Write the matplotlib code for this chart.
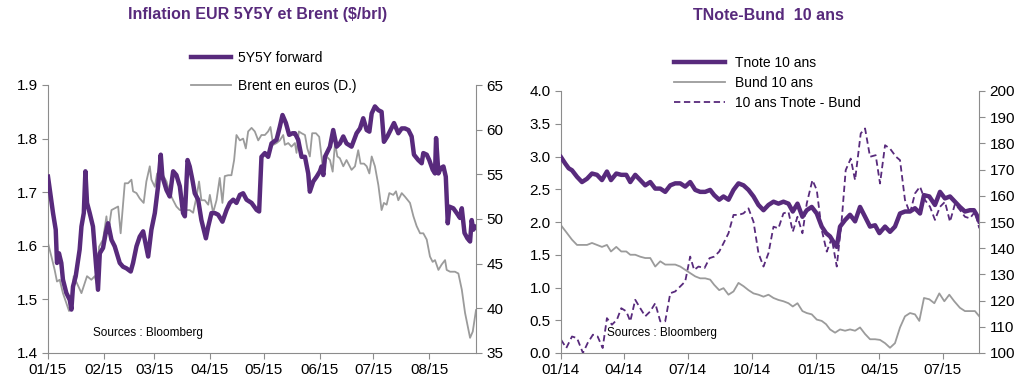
import pandas as pd
import matplotlib.pyplot as plt
import matplotlib.dates as mdates

plt.rcParams['font.family'] = ['Liberation Sans', 'DejaVu Sans']

# ---- left chart : 5Y5Y forward vs Brent (days since 2015-01-01)
fwd_days = [0, 2.8, 4.3, 5.0, 6.1, 7.4, 8.3, 10.2, 12.1, 13.0,
            13.9, 15.4, 17.6, 18.6, 19.9, 20.8, 21.7, 23.2, 25.0, 26.5,
            27.8, 28.8, 30.6, 32.1, 33.4, 35.3, 37.1, 39.9, 41.7, 43.6,
            46.0, 47.3, 49.2, 51.0, 52.9, 55.7, 57.5, 59.4, 61.2, 62.7,
            63.6, 65.9, 67.7, 69.6, 71.4, 73.3, 75.1, 76.1, 77.6, 78.8,
            80.3, 81.6, 83.5, 85.3, 87.8, 89.1, 90.9, 92.8, 94.6, 97.0,
            99.3, 101.1, 103.0, 104.8, 106.7, 108.5, 110.4, 113.2, 116.0, 117.4,
            118.7, 120.6, 122.4, 124.3, 127.1, 128.9, 130.4, 132.3, 134.1, 136.0,
            137.3, 139.1, 141.0, 142.9, 144.7, 145.6, 147.5, 149.4, 151.2, 152.1,
            153.1, 154.0, 156.8, 158.6, 160.5, 162.3, 164.2, 166.0, 168.8, 171.6,
            173.5, 175.3, 177.2, 178.7, 180.0, 181.8, 183.7, 185.5, 186.8, 188.7,
            190.5, 192.4, 194.8, 196.7, 198.5, 200.4, 202.2, 203.5, 205.9, 207.8,
            208.7, 210.6, 212.0, 213.9, 215.2, 215.8, 217.1, 218.4, 219.9, 221.2,
            222.3, 223.2, 225.4, 227.3, 229.1, 230.1, 231.6, 233.2, 234.7, 235.6,
            236.5, 237.5, 238.4]
fwd = [1.729, 1.661, 1.630, 1.568, 1.586, 1.568, 1.537, 1.512, 1.499, 1.481,
       1.524, 1.543, 1.593, 1.636, 1.661, 1.739, 1.680, 1.661, 1.636, 1.574,
       1.518, 1.586, 1.596, 1.624, 1.642, 1.611, 1.599, 1.568, 1.561, 1.558,
       1.552, 1.568, 1.599, 1.617, 1.627, 1.580, 1.630, 1.661, 1.711, 1.770,
       1.729, 1.704, 1.692, 1.739, 1.732, 1.711, 1.661, 1.655, 1.760, 1.748,
       1.723, 1.698, 1.686, 1.648, 1.614, 1.636, 1.661, 1.661, 1.658, 1.645,
       1.667, 1.680, 1.686, 1.680, 1.695, 1.698, 1.686, 1.680, 1.667, 1.664,
       1.766, 1.773, 1.766, 1.791, 1.798, 1.822, 1.844, 1.829, 1.807, 1.810,
       1.810, 1.798, 1.766, 1.766, 1.735, 1.701, 1.720, 1.729, 1.739, 1.748,
       1.732, 1.766, 1.785, 1.816, 1.785, 1.791, 1.804, 1.791, 1.785, 1.810,
       1.819, 1.838, 1.816, 1.813, 1.847, 1.860, 1.853, 1.850, 1.794, 1.804,
       1.816, 1.829, 1.810, 1.819, 1.819, 1.816, 1.804, 1.770, 1.760, 1.754,
       1.773, 1.770, 1.760, 1.742, 1.735, 1.801, 1.735, 1.745, 1.748, 1.729,
       1.642, 1.673, 1.670, 1.661, 1.652, 1.670, 1.624, 1.614, 1.608, 1.648,
       1.630, 1.636, 1.636]

brent_days = [0, 1.9, 3.7, 5.0, 6.5, 8.3, 10.2, 11.7, 13.0, 14.3,
              16.1, 18.6, 20.4, 21.7, 24.1, 26.0, 27.3, 28.4, 30.6, 32.5,
              33.4, 35.3, 37.1, 39.0, 40.4, 42.7, 44.5, 46.4, 47.3, 49.2,
              51.0, 53.2, 54.7, 56.6, 57.5, 59.4, 60.7, 62.2, 64.0, 65.9,
              67.7, 69.6, 71.4, 73.3, 75.1, 77.0, 78.8, 80.7, 82.6, 84.0,
              85.3, 87.2, 89.1, 90.0, 91.8, 93.7, 95.5, 97.0, 98.3, 100.2,
              102.0, 103.5, 104.8, 106.7, 108.5, 110.0, 111.3, 113.2, 115.0, 116.9,
              118.7, 120.6, 122.4, 123.7, 125.2, 127.1, 128.9, 130.8, 131.7, 133.6,
              135.4, 137.3, 138.2, 139.5, 141.0, 142.9, 144.2, 145.6, 146.9, 149.0,
              150.8, 152.1, 153.1, 154.9, 156.8, 158.3, 159.6, 160.9, 162.3, 164.2,
              166.0, 167.0, 168.8, 170.7, 172.5, 173.8, 175.7, 177.2, 178.7, 180.0,
              181.8, 183.7, 185.5, 186.8, 188.3, 189.8, 192.0, 193.5, 194.8, 196.7,
              198.5, 201.3, 203.2, 205.0, 206.9, 208.7, 210.6, 212.4, 213.9, 215.2,
              217.1, 218.9, 220.8, 221.7, 223.6, 226.3, 228.2, 230.1, 231.9, 233.8,
              234.7, 236.2, 238.0]
brent = [47.3, 45.8, 44.3, 43.0, 43.2, 41.7, 40.6, 39.7, 41.0, 43.6,
         42.8, 41.7, 42.8, 43.6, 43.2, 43.6, 42.6, 46.9, 47.7, 50.3,
         48.4, 51.0, 51.2, 51.4, 48.4, 54.0, 54.0, 54.4, 53.1, 52.9,
         52.3, 51.8, 54.2, 55.9, 54.4, 53.6, 55.1, 54.8, 54.9, 54.2,
         52.9, 52.1, 51.4, 51.0, 51.0, 51.0, 51.0, 50.7, 52.5, 54.2,
         52.1, 52.1, 51.6, 52.7, 50.7, 52.1, 54.6, 51.8, 54.8, 54.9,
         54.9, 56.6, 59.4, 58.8, 59.0, 57.9, 59.8, 60.2, 59.8, 58.8,
         59.4, 59.4, 59.8, 60.3, 58.3, 58.5, 58.8, 59.4, 58.3, 58.5,
         58.1, 58.5, 57.4, 59.8, 59.6, 59.4, 57.9, 57.0, 59.6, 59.6,
         59.2, 57.0, 55.1, 57.0, 56.6, 55.3, 58.5, 57.0, 56.8, 55.9,
         56.6, 56.2, 55.5, 55.9, 57.7, 56.2, 56.2, 55.9, 55.1, 57.0,
         55.9, 53.8, 51.0, 51.8, 51.6, 52.9, 52.7, 53.1, 52.1, 52.9,
         52.5, 51.8, 50.3, 49.2, 48.4, 48.4, 47.7, 45.8, 45.2, 45.4,
         44.3, 44.9, 45.4, 44.3, 44.1, 44.1, 43.9, 42.1, 39.5, 37.6,
         36.7, 37.4, 39.8]

# ---- right chart : TNote / Bund 10y (days since 2014-01-01)
tnote_days = [0, 6.2, 11.0, 15.7, 22.9, 30.0, 37.2, 44.3, 51.5, 58.6,
              65.7, 71.5, 79.1, 86.2, 93.4, 99.1, 106.2, 113.4, 120.5, 127.7,
              134.8, 142.0, 149.1, 156.3, 163.4, 170.6, 177.7, 184.8, 192.0, 199.1,
              206.3, 213.4, 219.2, 226.3, 232.5, 239.6, 246.8, 253.9, 261.1, 268.2,
              275.4, 282.5, 289.7, 296.8, 304.0, 311.1, 318.2, 325.4, 331.6, 338.3,
              345.4, 351.6, 358.7, 365.9, 373.0, 379.2, 384.9, 390.7, 394.5, 399.2,
              406.4, 413.5, 420.7, 427.8, 435.0, 442.1, 449.3, 455.5, 463.6, 470.7,
              477.8, 485.0, 492.1, 499.3, 506.4, 513.6, 519.3, 526.9, 535.0, 542.2,
              549.3, 556.5, 563.6, 570.7, 577.9, 585.0, 590.8, 594.6, 598.4]
tnote = [2.99, 2.89, 2.82, 2.79, 2.69, 2.61, 2.66, 2.74, 2.72, 2.64,
         2.77, 2.64, 2.74, 2.72, 2.72, 2.61, 2.72, 2.64, 2.56, 2.61,
         2.51, 2.51, 2.46, 2.56, 2.59, 2.59, 2.54, 2.61, 2.49, 2.46,
         2.46, 2.49, 2.41, 2.34, 2.39, 2.34, 2.49, 2.59, 2.56, 2.49,
         2.39, 2.26, 2.18, 2.26, 2.31, 2.28, 2.31, 2.28, 2.16, 2.28,
         2.08, 2.18, 2.23, 2.13, 1.93, 1.83, 1.78, 1.68, 1.62, 1.93,
         2.03, 2.11, 2.01, 2.23, 2.08, 1.93, 1.95, 1.83, 1.93, 1.85,
         1.93, 2.13, 2.16, 2.16, 2.21, 2.13, 2.41, 2.39, 2.26, 2.46,
         2.36, 2.39, 2.31, 2.23, 2.16, 2.18, 2.18, 2.11, 2.01]

bund_days = [0, 8.6, 15.7, 22.9, 30.0, 37.2, 44.3, 51.5, 58.6, 65.7,
             71.5, 79.1, 86.2, 93.4, 99.1, 106.2, 113.4, 120.5, 127.7, 134.8,
             142.0, 149.1, 156.3, 163.4, 170.6, 177.7, 184.8, 192.0, 199.1, 206.3,
             213.4, 219.2, 226.3, 232.5, 239.6, 246.8, 253.9, 261.1, 268.2, 275.4,
             282.5, 289.7, 296.8, 304.0, 311.1, 318.2, 325.4, 331.6, 338.3, 345.4,
             351.6, 358.7, 365.9, 373.0, 379.2, 384.9, 392.1, 399.2, 406.4, 413.5,
             420.7, 427.8, 435.0, 442.1, 449.3, 456.4, 463.6, 470.7, 477.8, 485.0,
             492.1, 499.3, 506.4, 512.6, 519.3, 526.9, 534.1, 541.2, 548.4, 555.5,
             562.6, 570.7, 577.9, 585.0, 592.2, 598.4]
bund = [1.95, 1.83, 1.73, 1.65, 1.65, 1.65, 1.68, 1.65, 1.62, 1.65,
        1.55, 1.62, 1.55, 1.55, 1.50, 1.50, 1.47, 1.45, 1.45, 1.32,
        1.40, 1.35, 1.35, 1.35, 1.32, 1.27, 1.22, 1.17, 1.14, 1.14,
        1.12, 1.04, 0.96, 0.99, 0.89, 0.94, 1.07, 1.02, 0.96, 0.91,
        0.89, 0.86, 0.89, 0.84, 0.81, 0.79, 0.76, 0.71, 0.76, 0.64,
        0.61, 0.59, 0.51, 0.49, 0.44, 0.36, 0.31, 0.36, 0.34, 0.36,
        0.34, 0.39, 0.29, 0.21, 0.21, 0.20, 0.15, 0.08, 0.15, 0.39,
        0.56, 0.61, 0.59, 0.49, 0.84, 0.82, 0.76, 0.91, 0.79, 0.89,
        0.79, 0.69, 0.64, 0.64, 0.64, 0.56]

spread_days = [0, 7.6, 15.7, 22.9, 31.4, 38.1, 45.7, 52.4, 59.6, 65.7,
               72.9, 80.0, 86.2, 93.4, 99.1, 106.2, 113.4, 120.5, 127.7, 134.8,
               142.0, 149.1, 156.3, 163.4, 170.6, 177.7, 184.8, 190.5, 196.7, 205.3,
               212.5, 219.2, 226.3, 232.5, 239.6, 246.8, 253.9, 261.1, 268.2, 275.4,
               282.5, 289.7, 296.8, 304.0, 311.1, 318.2, 325.4, 331.6, 338.3, 345.4,
               351.6, 359.7, 365.9, 373.0, 380.2, 387.3, 394.5, 401.6, 407.3, 414.5,
               420.7, 428.8, 435.0, 442.1, 450.2, 456.4, 463.6, 470.7, 479.3, 485.0,
               492.1, 499.3, 506.4, 513.6, 520.7, 527.9, 535.0, 542.2, 549.3, 556.5,
               563.6, 570.7, 577.9, 585.0, 592.2, 598.4]
spread = [105.1, 101.9, 106.3, 105.7, 100.0, 103.8, 107.0, 106.3, 101.9, 113.3,
          110.8, 112.7, 117.1, 115.9, 112.1, 120.3, 117.1, 114.0, 115.9, 119.0,
          112.1, 112.1, 122.8, 123.5, 125.4, 127.3, 136.8, 131.7, 133.0, 132.4,
          136.2, 136.8, 138.7, 141.9, 145.7, 152.7, 152.7, 153.3, 155.2, 150.1,
          138.1, 133.0, 138.1, 148.2, 147.6, 153.3, 153.9, 146.3, 152.0, 145.7,
          157.1, 166.0, 162.2, 147.0, 138.7, 143.8, 133.0, 150.8, 169.8, 174.2,
          166.0, 183.8, 185.7, 174.9, 175.5, 164.7, 179.3, 178.0, 174.9, 173.6,
          158.4, 153.3, 160.9, 163.5, 158.4, 155.8, 150.8, 155.8, 157.7, 150.1,
          156.9, 154.6, 152.0, 151.4, 153.9, 147.6]

PURPLE = '#582a7c'
GREY = '#9b9b9b'
AXC = '#8c8c8c'


def to_dates(start, days):
    return pd.Timestamp(start) + pd.to_timedelta(days, unit='D')


def style_axes(ax, ax2):
    for a in (ax, ax2):
        a.spines['top'].set_visible(False)
        for s in ('left', 'right', 'bottom'):
            a.spines[s].set_color(AXC)
        a.tick_params(colors='black', labelsize=11, length=4, color=AXC)
    ax.spines['right'].set_visible(False)
    ax2.spines['left'].set_visible(False)
    ax2.spines['bottom'].set_visible(False)


fig = plt.figure(figsize=(10.31, 3.91), dpi=100)

# left panel
ax = fig.add_axes([48 / 1031, 1 - 353 / 391, 428 / 1031, 268 / 391])
ax2 = ax.twinx()
l1, = ax.plot(to_dates('2015-01-01', fwd_days), fwd, color=PURPLE, lw=3.2, label='5Y5Y forward', zorder=3)
l2, = ax2.plot(to_dates('2015-01-01', brent_days), brent, color=GREY, lw=1.3, label='Brent en euros (D.)')
ax.set_zorder(ax2.get_zorder() + 1)
ax.patch.set_visible(False)
ax.set_ylim(1.4, 1.9)
ax.set_yticks([1.4, 1.5, 1.6, 1.7, 1.8, 1.9])
ax2.set_ylim(35, 65)
ax2.set_yticks(range(35, 66, 5))
ax.set_xlim(pd.Timestamp('2015-01-01'), pd.Timestamp('2015-08-27'))
ax.xaxis.set_major_locator(mdates.MonthLocator())
ax.xaxis.set_major_formatter(mdates.DateFormatter('%m/%y'))
style_axes(ax, ax2)
ax.text(93 / 1031, 1 - 333 / 391, 'Sources : Bloomberg', transform=fig.transFigure,
        fontsize=8.5, va='center')
fig.text(258 / 1031, 1 - 15 / 391, 'Inflation EUR 5Y5Y et Brent ($/brl)', ha='center', va='center',
         fontsize=11.5, fontweight='bold', color=PURPLE)
fig.legend(handles=[l1, l2], loc='upper left', bbox_to_anchor=(191 / 1031, 1 - 51 / 391),
           frameon=False, fontsize=10, handlelength=2.9, handletextpad=0.5,
           labelspacing=1.0, borderpad=0, borderaxespad=0)

# right panel
bx = fig.add_axes([561 / 1031, 1 - 353 / 391, 418 / 1031, 262 / 391])
bx2 = bx.twinx()
r1, = bx.plot(to_dates('2014-01-01', tnote_days), tnote, color=PURPLE, lw=3.2, label='Tnote 10 ans', zorder=3)
r2, = bx.plot(to_dates('2014-01-01', bund_days), bund, color=GREY, lw=1.3, label='Bund 10 ans')
r3, = bx2.plot(to_dates('2014-01-01', spread_days), spread, color=PURPLE, lw=1.3, ls=(0, (3.5, 2)),
               label='10 ans Tnote - Bund')
bx.set_zorder(bx2.get_zorder() + 1)
bx.patch.set_visible(False)
bx.set_ylim(0, 4)
bx.set_yticks([0, 0.5, 1, 1.5, 2, 2.5, 3, 3.5, 4])
bx.yaxis.set_major_formatter(plt.FormatStrFormatter('%.1f'))
bx2.set_ylim(100, 200)
bx2.set_yticks(range(100, 201, 10))
bx.set_xlim(pd.Timestamp('2014-01-01'), pd.Timestamp('2015-08-22'))
bx.xaxis.set_major_locator(mdates.MonthLocator(bymonth=[1, 4, 7, 10]))
bx.xaxis.set_major_formatter(mdates.DateFormatter('%m/%y'))
style_axes(bx, bx2)
fig.text(607 / 1031, 1 - 333 / 391, 'Sources : Bloomberg', fontsize=8.5, va='center')
fig.text(768 / 1031, 1 - 15 / 391, 'TNote-Bund  10 ans', ha='center', va='center',
         fontsize=11.5, fontweight='bold', color=PURPLE)
fig.legend(handles=[r1, r2, r3], loc='upper left', bbox_to_anchor=(674 / 1031, 1 - 56 / 391),
           frameon=False, fontsize=10, handlelength=3.7, handletextpad=0.7,
           labelspacing=0.42, borderpad=0, borderaxespad=0)

fig.savefig('out.png', dpi=100)
